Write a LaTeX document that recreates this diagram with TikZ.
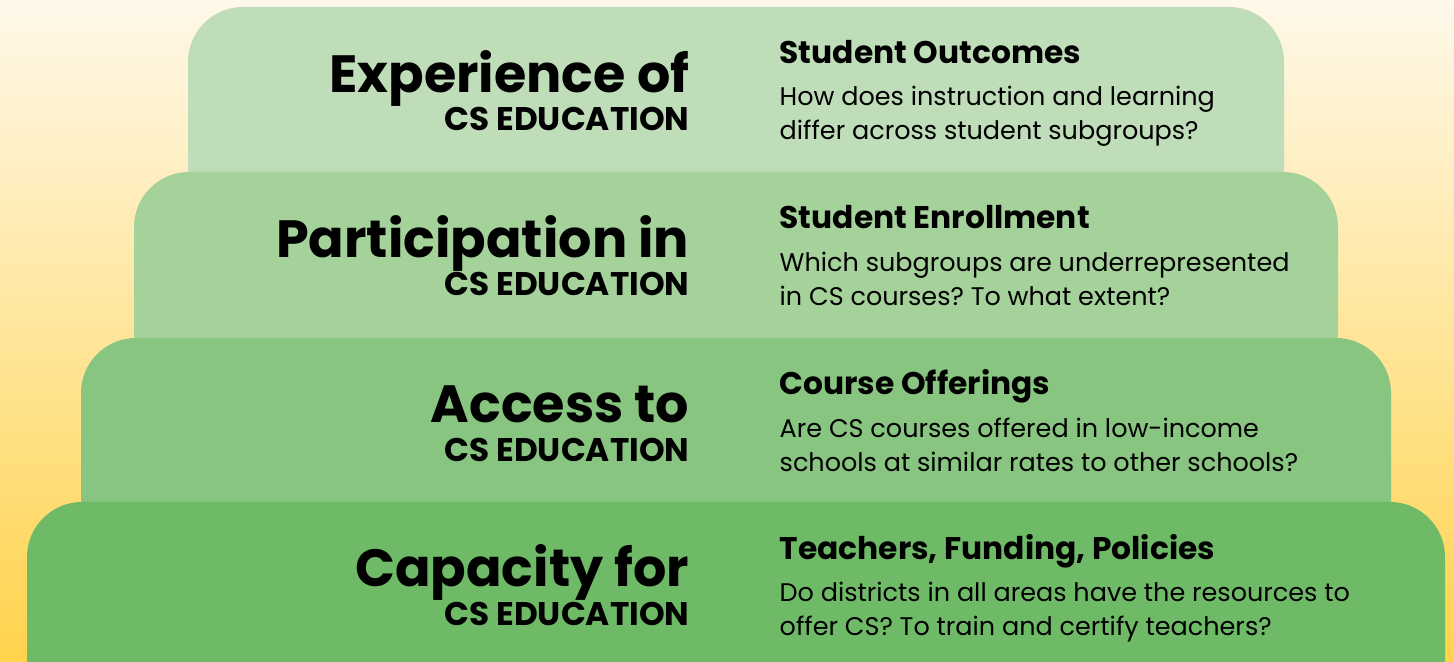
\documentclass[tikz,border=0pt]{standalone}
\usepackage{fontspec}
\setmainfont{Poppins}
\usetikzlibrary{positioning}
\frenchspacing

\definecolor{bgtop}{HTML}{FFF8EA}
\definecolor{bgmid}{HTML}{FFE7AA}
\definecolor{bgbot}{HTML}{FFD34C}
\definecolor{tierA}{HTML}{BFDDB9}
\definecolor{tierB}{HTML}{A5D29A}
\definecolor{tierC}{HTML}{88C580}
\definecolor{tierD}{HTML}{6FBA67}

\tikzset{
  tierbox/.style={rounded corners=0.55cm},
  title/.style={anchor=base east,inner sep=0pt,font=\bfseries\fontsize{14.9}{14.9}\selectfont},
  subtitle/.style={anchor=base east,inner sep=0pt,font=\bfseries\fontsize{9.3}{9.3}\selectfont},
  topic/.style={anchor=base west,inner sep=0pt,font=\bfseries\fontsize{8.9}{8.9}\selectfont},
  question/.style={anchor=base west,inner sep=0pt,align=left,font=\fontsize{7.25}{9.7}\selectfont},
}

\begin{document}
\begin{tikzpicture}[x=0.01cm,y=-0.01cm]
            \useasboundingbox (0,0) rectangle (1454,662);
            \clip (0,0) rectangle (1454,662);
            \shade [top color=bgtop,middle color=bgmid,bottom color=bgbot] (0,0) rectangle (1454,662);

            % tiers: left x, right x, top y
            \foreach \xa/\xb/\t/\c in {188/1284/7/tierA,134/1338/172/tierB,81/1391/338/tierC,27/1445/502/tierD}
                {\fill [\c,tierbox] (\xa,\t) rectangle (\xb,760);}

            % question nodes sit on the baseline of their last line
            \node [title] (exp) at (690,93) {Experience of};
            \node [subtitle] (expcs) at (690,131) {CS EDUCATION};
            \node [topic] (outc) at (779,64) {Student Outcomes};
            \node [question] (outcq) at (779,140) {How does instruction and learning\\differ across student subgroups?};

            \node [title] (part) at (690,258) {Participation in};
            \node [subtitle] (partcs) at (690,296) {CS EDUCATION};
            \node [topic] (enrol) at (779,229) {Student Enrollment};
            \node [question] (enrolq) at (779,306) {Which subgroups are underrepresented\\in CS courses? To what extent?};

            \node [title] (acc) at (690,423) {Access to};
            \node [subtitle] (acccs) at (690,462) {CS EDUCATION};
            \node [topic] (offer) at (779,395) {Course Offerings};
            \node [question] (offerq) at (779,472) {Are CS courses offered in low-income\\schools at similar rates to other schools?};

            \node [title] (cap) at (690,587) {Capacity for};
            \node [subtitle] (capcs) at (690,626) {CS EDUCATION};
            \node [topic] (res) at (779,560) {Teachers, Funding, Policies};
            \node [question] (resq) at (779,636) {Do districts in all areas have the resources to\\offer CS? To train and certify teachers?};
\end{tikzpicture}
\end{document}
